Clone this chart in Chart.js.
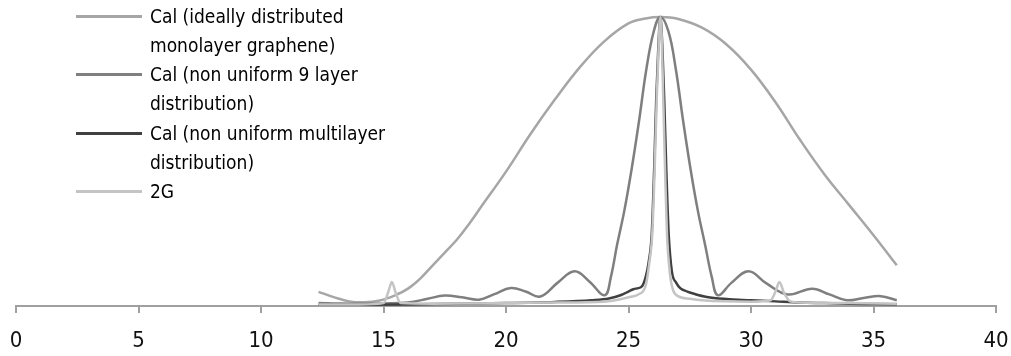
<!DOCTYPE html>
<html>
<head>
<meta charset="utf-8">
<script src="https://cdn.jsdelivr.net/npm/chart.js@4/dist/chart.umd.min.js"></script>
<style>
  html, body { margin: 0; padding: 0; background: #fff; }
  #wrap { position: relative; width: 1011px; height: 356px; }
  #legend { position: absolute; left: 76px; top: 1.5px; font-family: "Liberation Sans Narrow", "DejaVu Sans Condensed", sans-serif; font-size: 19px; line-height: 29.3px; color: #000; }
  .item { position: relative; padding-left: 74px; }
  .swatch { position: absolute; left: 0; top: 13px; width: 66px; height: 3px; }
</style>
</head>
<body>
<div id="wrap">
  <canvas id="myLineChart" width="1011" height="356"></canvas>
  <div id="legend"></div>
</div>
<script>
// series names, split the way the legend wraps them
const legendLines = [
    ["Cal (ideally distributed", "monolayer graphene)"],
    ["Cal (non uniform 9 layer", "distribution)"],
    ["Cal (non uniform multilayer", "distribution)"],
    ["2G"]
];
const colors = ['#a6a6a6', '#7f7f7f', '#404040', '#c4c4c4'];

const xTicks = [0, 5, 10, 15, 20, 25, 30, 35, 40];

// ideally distributed monolayer
const idealX = [12.35, 13, 13.6, 14.2, 14.8, 15.5, 16, 16.5, 17, 17.5, 18, 18.5, 19, 20, 21, 22, 23, 24, 25, 25.7, 26.3, 27, 28, 29, 30, 31, 32, 33, 34, 35, 35.95];
const idealY = [0.049, 0.030, 0.016, 0.013, 0.018, 0.038, 0.060, 0.095, 0.140, 0.185, 0.230, 0.285, 0.345, 0.465, 0.595, 0.715, 0.825, 0.915, 0.978, 0.995, 1.0, 0.994, 0.963, 0.905, 0.818, 0.705, 0.575, 0.455, 0.350, 0.245, 0.141];

// non uniform 9 layer
const nineX = [12.35, 13, 14, 15, 16, 16.8, 17.5, 18.2, 18.9, 19.5, 20.2, 20.8, 21.4, 22.1, 22.8, 23.4, 24.03, 24.28, 24.53, 24.83, 25.13, 25.43, 25.73, 26.03, 26.3, 26.63, 26.93, 27.23, 27.53, 27.83, 28.13, 28.4, 28.65, 29.2, 29.9, 30.6, 31.5, 32.5, 33.2, 33.9, 34.6, 35.3, 35.95];
const nineY = [0.010, 0.009, 0.008, 0.009, 0.012, 0.025, 0.036, 0.030, 0.022, 0.040, 0.062, 0.050, 0.033, 0.080, 0.120, 0.085, 0.037, 0.100, 0.210, 0.330, 0.475, 0.640, 0.820, 0.950, 1.0, 0.950, 0.820, 0.640, 0.475, 0.330, 0.210, 0.100, 0.037, 0.080, 0.120, 0.080, 0.040, 0.060, 0.040, 0.020, 0.028, 0.034, 0.020];

// non uniform multilayer
const multiX = [12.35, 14, 16, 18, 20, 22, 23.5, 24.2, 24.7, 25.0, 25.2, 25.4, 25.55, 25.7, 25.82, 25.95, 26.05, 26.13, 26.22, 26.3, 26.38, 26.46, 26.54, 26.64, 26.77, 26.95, 27.11, 27.4, 27.65, 28.2, 29, 30, 31, 32, 33, 34, 35, 35.95];
const multiY = [0.004, 0.004, 0.005, 0.008, 0.010, 0.014, 0.020, 0.026, 0.038, 0.050, 0.058, 0.062, 0.068, 0.100, 0.150, 0.251, 0.480, 0.710, 0.900, 1.0, 0.900, 0.710, 0.480, 0.250, 0.120, 0.080, 0.062, 0.050, 0.043, 0.031, 0.024, 0.020, 0.016, 0.012, 0.010, 0.008, 0.007, 0.006];

// 2G
const g2X = [12.35, 14, 15.0, 15.2, 15.34, 15.5, 15.7, 17, 20, 22, 24, 25.0, 25.4, 25.7, 25.85, 25.97, 26.07, 26.15, 26.24, 26.3, 26.36, 26.42, 26.49, 26.57, 26.68, 26.8, 27.0, 27.5, 28, 30, 30.8, 31.0, 31.16, 31.35, 31.6, 32, 34, 35.95];
const g2Y = [0.005, 0.005, 0.010, 0.050, 0.083, 0.045, 0.010, 0.008, 0.010, 0.012, 0.015, 0.030, 0.040, 0.070, 0.150, 0.250, 0.480, 0.710, 0.920, 1.0, 0.920, 0.710, 0.480, 0.250, 0.120, 0.060, 0.035, 0.025, 0.020, 0.015, 0.020, 0.050, 0.083, 0.045, 0.016, 0.012, 0.010, 0.008];

const seriesX = [idealX, nineX, multiX, g2X];
const seriesY = [idealY, nineY, multiY, g2Y];

const datasets = seriesX.map((xs, i) => ({
    label: legendLines[i].join(' '),
    data: xs.map((x, j) => ({ x: x, y: seriesY[i][j] })),
    borderColor: colors[i],
    backgroundColor: colors[i],
    borderWidth: 2.5,
    pointRadius: 0,
    // wide curves get a smooth bezier, the sharp peaks stay monotone so they don't dip below zero
    cubicInterpolationMode: i < 2 ? 'default' : 'monotone',
    tension: 0.4,
    order: 4 - i,
    clip: 6
}));

const myLineChart = new Chart(document.getElementById('myLineChart'), {
    type: 'line',
    data: { datasets: datasets },
    options: {
        responsive: false,
        animation: false,
        events: [],
        layout: { padding: { top: 17, left: 16, right: 15, bottom: 0 } },
        plugins: { legend: { display: false }, tooltip: { enabled: false } },
        scales: {
            x: {
                type: 'linear',
                min: 0,
                max: 40,
                afterBuildTicks: (scale) => { scale.ticks = xTicks.map(v => ({ value: v })); },
                afterFit: (scale) => {
                    scale.height = 50;
                    // labels overhang is already covered by the layout padding
                    scale.paddingLeft = 0;
                    scale.paddingRight = 0;
                },
                grid: { drawOnChartArea: false, drawTicks: true, tickLength: 7, color: '#a0a0a0', lineWidth: 2 },
                border: { color: '#a0a0a0', width: 2 },
                ticks: {
                    padding: 15,
                    maxRotation: 0,
                    color: '#111',
                    font: { family: '"Liberation Sans Narrow", "DejaVu Sans Condensed", sans-serif', size: 22 }
                }
            },
            y: { display: false, min: 0, max: 1 }
        }
    }
});

// legend as html, built from the datasets
const legendEl = document.getElementById('legend');
myLineChart.data.datasets.forEach((ds, i) => {
    const item = document.createElement('div');
    item.className = 'item';
    const sw = document.createElement('span');
    sw.className = 'swatch';
    sw.style.background = ds.borderColor;
    item.appendChild(sw);
    legendLines[i].forEach(line => {
        const d = document.createElement('div');
        d.textContent = line;
        item.appendChild(d);
    });
    legendEl.appendChild(item);
});
</script>
</body>
</html>
